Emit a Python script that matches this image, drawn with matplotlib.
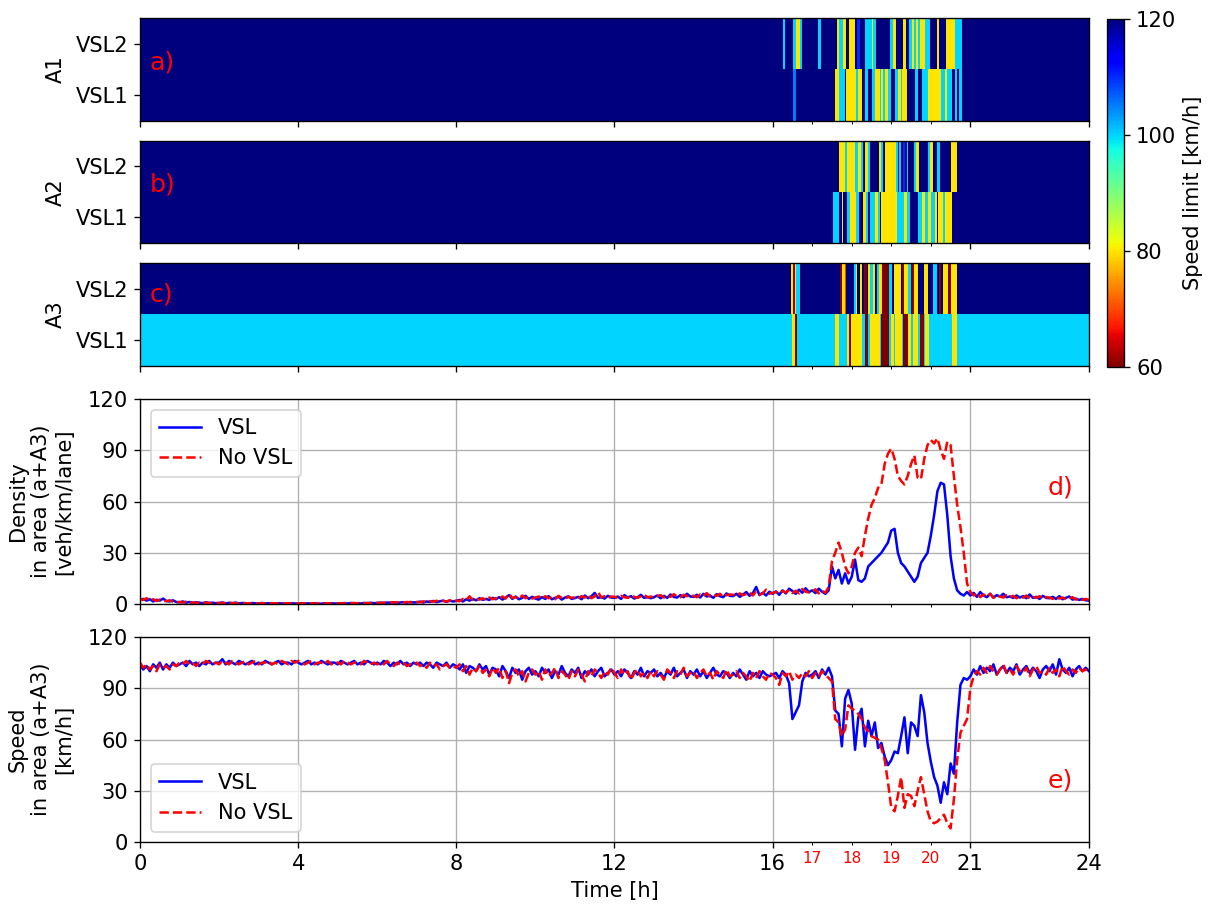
import numpy as np
import matplotlib
matplotlib.use("Agg")
import matplotlib.pyplot as plt

plt.rcParams['font.size'] = 12.5

# ---- speed limit settings (minutes after 16:00, value km/h) ----
WINDOW_START_H = 16
a1_vsl2 = [(15, 19, 100), (31, 35, 100), (35, 41, 80), (41, 44, 100), (69, 73, 100),
           (97, 101, 80), (101, 106, 100), (106, 111, 80), (116, 125, 80), (128, 132, 110),
           (140, 150, 100), (150, 153, 80), (153, 157, 100), (178, 182, 100), (182, 187, 80),
           (198, 203, 80), (207, 212, 100), (212, 214, 80), (214, 218, 100), (218, 220, 80),
           (220, 224, 100), (224, 231, 80), (231, 239, 100), (249, 253, 80), (263, 276, 80),
           (276, 288, 100)]
a1_vsl1 = [(31, 35, 105), (95, 100, 80), (100, 110, 100), (112, 127, 80), (127, 130, 100),
           (130, 136, 80), (140, 144, 100), (150, 155, 100), (155, 163, 80), (163, 165, 100),
           (165, 168, 80), (168, 171, 100), (171, 175, 80), (175, 180, 100), (186, 190, 100),
           (190, 194, 80), (194, 197, 100), (197, 204, 80), (216, 221, 100), (226, 236, 100),
           (236, 240, 80), (241, 256, 80), (256, 262, 100), (262, 264, 80), (264, 272, 100),
           (277, 280, 100), (283, 288, 100)]
a2_vsl2 = [(101, 110, 80), (110, 113, 100), (113, 125, 80), (125, 130, 100), (130, 134, 80),
           (134, 137, 100), (140, 144, 80), (144, 147, 100), (162, 165, 80), (165, 168, 100),
           (171, 187, 80), (187, 190, 100), (192, 195, 100), (198, 201, 110), (204, 206, 100),
           (214, 218, 100), (218, 222, 80), (236, 239, 100), (239, 244, 80), (250, 254, 100),
           (271, 280, 80)]
a2_vsl1 = [(92, 101, 100), (105, 107, 80), (113, 117, 100), (117, 127, 80), (127, 131, 100),
           (137, 141, 80), (141, 144, 100), (148, 155, 100), (155, 160, 80), (160, 163, 100),
           (165, 188, 80), (188, 199, 100), (199, 204, 80), (204, 208, 100), (221, 226, 100),
           (226, 231, 80), (231, 236, 100), (236, 240, 80), (240, 246, 100), (246, 249, 80),
           (251, 258, 80), (258, 261, 100), (261, 272, 80)]
a3_vsl2 = [(28, 31, 80), (31, 34, 60), (34, 36, 80), (36, 41, 100), (102, 105, 60),
           (105, 109, 80), (109, 111, 70), (124, 126, 100), (126, 128, 80), (132, 136, 80),
           (139, 143, 60), (144, 148, 80), (148, 152, 100), (152, 156, 80), (158, 162, 100),
           (162, 166, 80), (166, 177, 60), (177, 181, 100), (184, 194, 80), (196, 199, 60),
           (199, 206, 80), (206, 210, 100), (210, 214, 60), (214, 220, 80), (230, 235, 80),
           (244, 249, 100), (252, 256, 60), (258, 266, 80), (266, 270, 60), (270, 279, 80)]
a3_vsl1 = [(29, 34, 80), (34, 37, 60), (95, 101, 80), (113, 116, 80), (116, 119, 60),
           (119, 136, 80), (140, 144, 60), (147, 163, 80), (165, 176, 60), (180, 184, 80),
           (186, 196, 80), (198, 206, 60), (206, 210, 80), (213, 221, 80), (223, 229, 60),
           (231, 237, 80), (272, 279, 80)]
base_limits = {'A1': (120, 120), 'A2': (120, 120), 'A3': (100, 120)}

# ---- density / speed, 5-min values, 12 per hour ----
density_vsl = [
    2.5, 3.0, 2.0, 2.8, 1.5, 2.5, 2.0, 3.2, 1.8, 1.5, 2.2, 1.2,
    1.0, 1.5, 0.8, 1.2, 0.6, 1.0, 0.8, 0.5, 1.0, 0.6, 0.8, 0.5,
    0.6, 0.9, 0.4, 0.7, 0.5, 0.8, 0.4, 0.6, 0.5, 0.3, 0.6, 0.4,
    0.4, 0.6, 0.3, 0.5, 0.4, 0.3, 0.5, 0.3, 0.4, 0.3, 0.5, 0.3,
    0.3, 0.5, 0.2, 0.4, 0.3, 0.5, 0.3, 0.2, 0.4, 0.3, 0.5, 0.3,
    0.3, 0.5, 0.4, 0.3, 0.6, 0.4, 0.5, 0.3, 0.6, 0.5, 0.7, 0.5,
    0.6, 0.8, 0.5, 0.9, 0.7, 1.0, 0.6, 0.9, 1.1, 0.8, 1.2, 0.9,
    1.0, 1.4, 0.9, 1.5, 1.2, 1.8, 1.1, 1.6, 2.0, 1.3, 1.9, 1.5,
    1.8, 2.4, 1.5, 2.8, 2.0, 3.0, 2.2, 3.4, 2.5, 3.0, 2.4, 3.6,
    2.8, 4.0, 2.6, 3.8, 5.2, 3.0, 4.4, 2.8, 3.6, 4.8, 3.0, 4.2,
    3.2, 2.6, 4.0, 3.0, 4.6, 2.8, 3.6, 4.2, 2.6, 3.8, 4.5, 3.0,
    3.5, 4.2, 2.8, 5.0, 3.4, 4.6, 6.5, 3.6, 4.0, 3.2, 4.8, 3.8,
    3.6, 4.4, 3.0, 5.2, 3.8, 4.6, 3.2, 4.0, 5.4, 3.6, 4.2, 3.4,
    4.0, 5.0, 3.4, 4.8, 3.6, 5.6, 4.2, 3.8, 5.2, 4.0, 6.0, 4.4,
    4.2, 5.4, 3.8, 6.0, 4.4, 5.0, 3.6, 5.8, 4.6, 4.0, 6.2, 4.8,
    4.6, 6.0, 4.2, 5.6, 7.0, 4.8, 6.4, 10.0, 5.2, 6.6, 5.0, 7.2,
    6.0, 7.4, 5.4, 8.0, 6.2, 9.0, 7.6, 6.0, 8.4, 6.6, 9.2, 7.0,
    8.0, 6.4, 9.0, 7.2, 6.0, 8.0, 22.0, 15.0, 20.0, 12.0, 18.0, 12.0,
    16.0, 26.0, 14.0, 13.0, 15.0, 22.0, 24.0, 26.0, 28.0, 30.0, 33.0, 36.0,
    43.0, 44.0, 30.0, 24.0, 22.0, 19.0, 16.0, 13.0, 16.0, 24.0, 27.0, 30.0,
    40.0, 52.0, 66.0, 71.0, 70.0, 52.0, 28.0, 15.0, 8.0, 6.0, 5.0, 7.0,
    5.0, 6.5, 4.2, 7.0, 5.0, 4.0, 6.0, 3.8, 5.2, 4.4, 6.0, 4.0,
    4.4, 3.6, 5.0, 3.8, 4.6, 3.4, 5.6, 3.6, 4.2, 3.0, 4.8, 3.6,
    3.4, 4.2, 3.0, 4.6, 2.8, 3.6, 4.4, 2.6, 3.2, 2.4, 3.0, 2.2,
    2.0]
density_novsl = [
    3.0, 2.4, 3.4, 2.0, 2.8, 1.8, 2.6, 2.0, 1.6, 2.2, 1.4, 1.0,
    1.2, 0.8, 1.4, 0.7, 1.0, 0.6, 0.9, 0.5, 0.8, 0.6, 0.5, 0.7,
    0.5, 0.7, 0.4, 0.8, 0.5, 0.6, 0.3, 0.7, 0.4, 0.5, 0.3, 0.5,
    0.3, 0.5, 0.4, 0.3, 0.5, 0.4, 0.3, 0.4, 0.5, 0.3, 0.4, 0.3,
    0.4, 0.3, 0.5, 0.3, 0.4, 0.3, 0.5, 0.4, 0.3, 0.5, 0.3, 0.4,
    0.4, 0.3, 0.6, 0.4, 0.5, 0.6, 0.4, 0.7, 0.5, 0.6, 0.5, 0.7,
    0.7, 0.6, 0.9, 0.7, 1.0, 0.8, 1.1, 0.7, 0.9, 1.2, 0.9, 1.1,
    1.2, 1.0, 1.6, 1.1, 1.7, 1.4, 1.9, 1.3, 1.8, 1.5, 2.2, 1.6,
    2.0, 1.6, 3.0, 2.2, 4.5, 2.4, 3.0, 2.6, 3.4, 2.2, 3.8, 2.8,
    3.4, 2.8, 4.4, 3.2, 6.0, 3.6, 4.0, 3.0, 5.0, 3.4, 4.2, 3.2,
    3.8, 4.4, 3.0, 4.6, 3.4, 4.0, 2.8, 4.8, 3.6, 3.0, 4.2, 3.6,
    4.0, 3.2, 4.6, 3.8, 5.4, 3.4, 4.4, 7.0, 3.8, 4.6, 3.6, 4.4,
    4.2, 3.4, 4.8, 4.0, 3.6, 5.0, 4.2, 3.6, 4.6, 5.6, 3.8, 4.4,
    3.8, 4.6, 5.2, 3.8, 4.8, 4.2, 5.8, 4.4, 4.0, 5.4, 4.6, 5.2,
    4.8, 4.0, 5.6, 4.6, 6.4, 4.4, 5.4, 4.8, 6.0, 4.2, 5.2, 5.6,
    5.4, 4.8, 6.2, 5.2, 5.8, 6.8, 5.0, 7.4, 5.6, 6.2, 8.4, 6.0,
    6.6, 7.0, 6.2, 7.6, 6.8, 8.2, 6.4, 7.8, 6.2, 8.8, 7.2, 6.8,
    7.0, 8.6, 6.2, 7.8, 6.6, 10.0, 25.0, 30.0, 36.0, 30.0, 22.0, 18.0,
    22.0, 30.0, 33.0, 28.0, 40.0, 50.0, 58.0, 62.0, 68.0, 70.0, 82.0, 88.0,
    91.0, 85.0, 75.0, 72.0, 70.0, 75.0, 82.0, 87.0, 74.0, 73.0, 85.0, 93.0,
    96.0, 94.0, 97.0, 90.0, 85.0, 95.0, 93.0, 75.0, 58.0, 45.0, 30.0, 12.0,
    7.0, 5.0, 6.4, 4.0, 5.6, 4.2, 6.0, 3.6, 5.0, 4.4, 3.8, 5.2,
    4.0, 4.8, 3.4, 4.4, 3.8, 5.0, 3.2, 4.2, 3.6, 4.6, 3.2, 4.0,
    3.8, 3.0, 4.2, 3.2, 3.8, 2.8, 3.4, 4.0, 2.6, 3.4, 2.4, 3.0,
    2.4]
speed_vsl = [
    104, 101, 103, 100, 104, 102, 105, 101, 104, 102, 105, 103,
    104, 105, 103, 106, 104, 105, 103, 105, 104, 106, 104, 105,
    105, 107, 104, 106, 105, 104, 106, 105, 104, 105, 106, 104,
    105, 104, 106, 105, 104, 105, 106, 104, 105, 105, 104, 106,
    105, 104, 105, 106, 104, 105, 104, 106, 105, 104, 105, 105,
    104, 106, 105, 104, 105, 106, 104, 105, 104, 106, 105, 104,
    105, 104, 106, 105, 103, 105, 104, 106, 104, 105, 103, 105,
    104, 105, 103, 105, 104, 102, 105, 104, 103, 105, 102, 104,
    103, 101, 104, 99, 103, 102, 100, 104, 101, 103, 98, 102,
    101, 97, 103, 100, 96, 102, 99, 101, 95, 100, 102, 98,
    100, 97, 102, 99, 101, 96, 100, 98, 103, 99, 97, 101,
    99, 102, 96, 100, 98, 101, 97, 100, 102, 97, 99, 101,
    98, 100, 97, 101, 99, 96, 100, 98, 102, 97, 100, 99,
    101, 97, 99, 96, 100, 98, 102, 97, 99, 101, 96, 100,
    98, 101, 97, 100, 96, 99, 102, 98, 97, 100, 99, 96,
    99, 97, 101, 98, 95, 100, 97, 99, 96, 100, 98, 97,
    98, 99, 96, 100, 98, 93, 72, 76, 80, 94, 99, 97,
    98, 100, 96, 101, 98, 102, 97, 77, 75, 56, 84, 89,
    81, 54, 73, 78, 56, 71, 62, 70, 55, 58, 50, 45,
    48, 53, 52, 62, 73, 52, 70, 68, 62, 86, 76, 58,
    47, 38, 33, 23, 35, 28, 46, 40, 70, 92, 96, 95,
    97, 101, 98, 103, 99, 102, 100, 104, 98, 101, 103, 99,
    102, 100, 104, 98, 101, 103, 99, 102, 100, 96, 101, 103,
    100, 104, 98, 107, 101, 99, 102, 97, 101, 103, 100, 102,
    100]
speed_novsl = [
    105, 102, 104, 101, 103, 100, 104, 102, 103, 101, 104, 103,
    105, 104, 106, 104, 105, 103, 105, 104, 106, 105, 104, 105,
    104, 106, 105, 104, 106, 105, 104, 105, 106, 104, 105, 106,
    104, 105, 105, 106, 104, 105, 104, 106, 105, 104, 106, 105,
    106, 105, 104, 105, 106, 104, 105, 105, 104, 106, 104, 105,
    105, 104, 106, 105, 104, 105, 105, 104, 106, 105, 104, 105,
    104, 105, 104, 106, 104, 103, 105, 104, 105, 103, 104, 104,
    105, 103, 104, 102, 105, 103, 104, 101, 103, 104, 102, 103,
    102, 104, 100, 103, 98, 102, 100, 103, 99, 101, 97, 102,
    99, 102, 96, 100, 93, 99, 101, 97, 100, 94, 99, 101,
    98, 100, 95, 101, 97, 99, 102, 96, 100, 98, 95, 100,
    97, 101, 98, 94, 100, 97, 101, 99, 96, 100, 98, 102,
    99, 96, 101, 98, 100, 95, 99, 101, 97, 99, 96, 100,
    97, 100, 98, 95, 101, 99, 96, 100, 98, 102, 97, 99,
    100, 96, 99, 101, 97, 99, 95, 100, 98, 96, 101, 97,
    98, 100, 96, 99, 97, 94, 99, 96, 100, 97, 95, 99,
    98, 96, 92, 99, 97, 100, 95, 98, 96, 99, 97, 100,
    96, 99, 97, 100, 98, 96, 94, 72, 70, 62, 66, 80,
    78, 77, 75, 72, 67, 65, 62, 61, 60, 55, 48, 35,
    20, 18, 27, 38, 20, 28, 27, 21, 30, 38, 28, 18,
    12, 11, 12, 14, 16, 11, 8, 25, 48, 64, 68, 72,
    90, 97, 100, 98, 102, 99, 103, 100, 98, 101, 104, 99,
    101, 98, 103, 100, 99, 102, 97, 101, 103, 99, 100, 98,
    102, 99, 101, 97, 103, 100, 98, 101, 99, 102, 100, 101,
    99]

major_ticks = [0, 4, 8, 12, 16, 21, 24]
minor_ticks = [17, 18, 19, 20]


def build_row(base, segs):
    row = np.full(24 * 60, float(base))
    off = WINDOW_START_H * 60
    for s, e, v in segs:
        row[off + s:off + e] = v
    return row


t = np.arange(len(density_vsl)) / 12.0

fig = plt.figure(figsize=(10, 906 / 121.2), dpi=121.2)
L, W = 0.1155, 0.783
ax1 = fig.add_axes([L, 0.8664, W, 0.1137])
ax2 = fig.add_axes([L, 0.7318, W, 0.1126], sharex=ax1)
ax3 = fig.add_axes([L, 0.5960, W, 0.1137], sharex=ax1)
ax4 = fig.add_axes([L, 0.3333, W, 0.2263], sharex=ax1)
ax5 = fig.add_axes([L, 0.0706, W, 0.2263], sharex=ax1)
cax = fig.add_axes([0.9134, 0.5949, 0.0142, 0.3841])

heat = [(ax1, 'A1', a1_vsl1, a1_vsl2, 'a)', 1.13),
        (ax2, 'A2', a2_vsl1, a2_vsl2, 'b)', 1.14),
        (ax3, 'A3', a3_vsl1, a3_vsl2, 'c)', 1.38)]
for ax, name, s1, s2, tag, ty in heat:
    b1, b2 = base_limits[name]
    img = np.vstack([build_row(b1, s1), build_row(b2, s2)])
    im = ax.imshow(img, extent=[0, 24, 0, 2], origin='lower', aspect='auto',
                   cmap='jet_r', vmin=60, vmax=120, interpolation='nearest')
    ax.set_yticks([0.5, 1.5])
    ax.set_yticklabels(['VSL1', 'VSL2'])
    ax.set_ylabel(name, labelpad=6)
    ax.text(0.25, ty, tag, color='red', fontsize=15, va='center')
    ax.tick_params(labelbottom=False)

cb = fig.colorbar(im, cax=cax, ticks=[60, 80, 100, 120])
cb.set_label('Speed limit [km/h]')

ax4.plot(t, density_vsl, color='blue', lw=1.5, label='VSL')
ax4.plot(t, density_novsl, color='red', lw=1.5, ls='--', label='No VSL')
ax4.set_ylim(0, 120)
ax4.set_yticks([0, 30, 60, 90, 120])
ax4.set_ylabel('Density\nin area (a+A3)\n[veh/km/lane]', labelpad=8)
ax4.grid(True)
ax4.legend(loc='upper left')
ax4.text(23.6, 68, 'd)', color='red', fontsize=15, ha='right', va='center')
ax4.tick_params(labelbottom=False)

ax5.plot(t, speed_vsl, color='blue', lw=1.5, label='VSL')
ax5.plot(t, speed_novsl, color='red', lw=1.5, ls='--', label='No VSL')
ax5.set_ylim(0, 120)
ax5.set_yticks([0, 30, 60, 90, 120])
ax5.set_ylabel('Speed\nin area (a+A3)\n[km/h]', labelpad=8)
ax5.grid(True)
ax5.legend(loc='lower left')
ax5.text(23.6, 36, 'e)', color='red', fontsize=15, ha='right', va='center')
ax5.set_xlabel('Time [h]')

ax5.set_xlim(0, 24)
ax5.set_xticks(major_ticks)
ax5.set_xticks(minor_ticks, minor=True)
ax5.set_xticklabels([str(v) for v in minor_ticks], minor=True, color='red', fontsize=9)
for ax in (ax1, ax2, ax3, ax4):
    ax.tick_params(which='minor', labelbottom=False)

fig.savefig('out.png', dpi=121.2)
